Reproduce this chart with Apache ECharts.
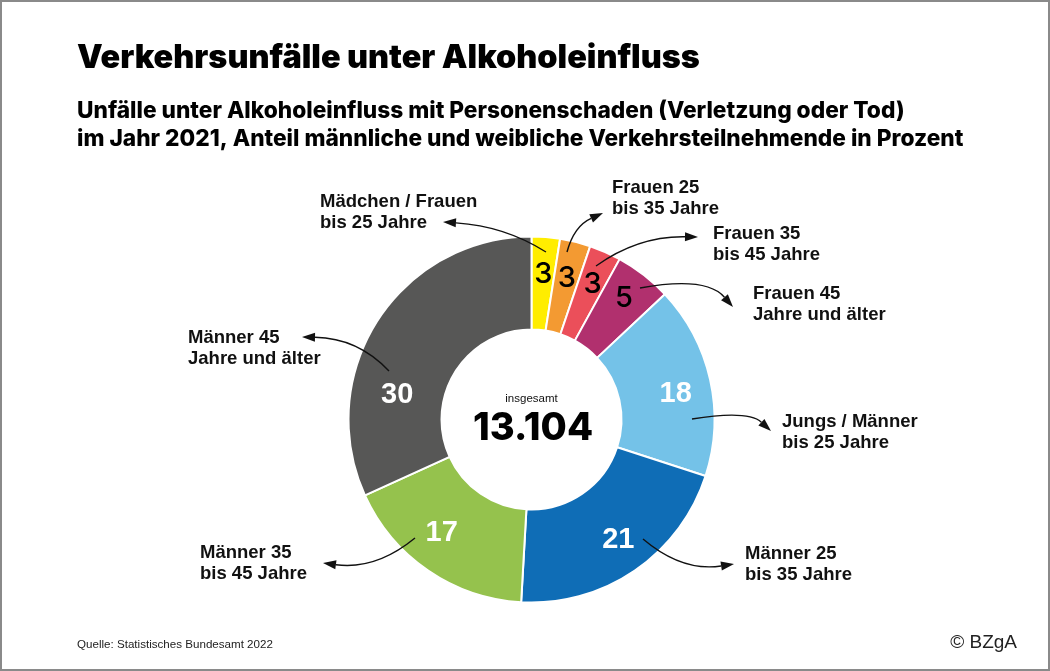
<!DOCTYPE html>
<html lang="de">
<head>
<meta charset="utf-8">
<title>Verkehrsunfälle unter Alkoholeinfluss</title>
<script src="https://cdn.jsdelivr.net/npm/echarts@6/dist/echarts.min.js"></script>
<style>
  html, body { margin: 0; padding: 0; background: #fff; }
  #chart { width: 1050px; height: 671px; }
</style>
</head>
<body>
<div id="chart"></div>
<script>
const categories = [
  ['Mädchen / Frauen', 'bis 25 Jahre'],
  ['Frauen 25', 'bis 35 Jahre'],
  ['Frauen 35', 'bis 45 Jahre'],
  ['Frauen 45', 'Jahre und älter'],
  ['Jungs / Männer', 'bis 25 Jahre'],
  ['Männer 25', 'bis 35 Jahre'],
  ['Männer 35', 'bis 45 Jahre'],
  ['Männer 45', 'Jahre und älter'],
]
// printed percentages
const printedValues = [3, 3, 3, 5, 18, 21, 17, 30]
// slice sizes as read from the drawn angles, the original does not draw them exactly to the printed numbers
const sliceShares = [2.5, 2.7, 2.8, 5, 17, 20.9, 17.3, 31.8]
const total = '13.104'

const colors = ['#FFED00', '#F39A32', '#EB4F5A', '#B1306E', '#74C2E8', '#0F6DB6', '#95C24D', '#575756']
const labelColors = ['#000', '#000', '#000', '#000', '#fff', '#fff', '#fff', '#fff']
const labelOffsets = [[1, -6], [2, -6], [5, -8], [7, -11], [8, 5], [8, 5], [-11, -2], [-17, 51]]

// left edge and vertical centre of the first line of each callout
const calloutPos = [[320, 202], [612, 188], [713, 234], [753, 294], [782, 422], [745, 554], [200, 553], [188, 338]]
// start, control point, tip
const arrows = [
  [[546, 252], [505, 226], [443, 222]],
  [[567, 252], [574, 226], [603, 213]],
  [[596, 266], [638, 236], [698, 237]],
  [[640, 288], [706, 276], [733, 307]],
  [[692, 419], [748, 410], [771, 431]],
  [[643, 539], [682, 572], [734, 564]],
  [[415, 538], [376, 570], [323, 563]],
  [[389, 371], [358, 338], [302, 337]],
]

const FONT = '"Liberation Sans", Arial, sans-serif'
const HEAVY = 'Inter, "Liberation Sans", sans-serif'

// 箭头：曲线加三角形
function arrowGraphic([start, cp, tip]) {
  const a = Math.atan2(tip[1] - cp[1], tip[0] - cp[0])
  const len = 13
  const half = 4.5
  const bx = tip[0] - len * Math.cos(a)
  const by = tip[1] - len * Math.sin(a)
  return [
    {
      type: 'bezierCurve',
      z: 10,
      shape: { x1: start[0], y1: start[1], cpx1: cp[0], cpy1: cp[1], x2: bx, y2: by },
      style: { stroke: '#111', lineWidth: 1.4, fill: 'none' },
    },
    {
      type: 'polygon',
      z: 10,
      shape: {
        points: [
          tip,
          [bx - half * Math.sin(a), by + half * Math.cos(a)],
          [bx + half * Math.sin(a), by - half * Math.cos(a)],
        ],
      },
      style: { fill: '#111' },
    },
  ]
}

function calloutGraphic(lines, i) {
  return {
    type: 'text',
    z: 10,
    x: calloutPos[i][0],
    y: calloutPos[i][1] - 10,
    style: {
      text: lines.join('\n'),
      font: 'bold 18.5px ' + FONT,
      lineHeight: 20.5,
      fill: '#111',
      textVerticalAlign: 'top',
    },
  }
}

const chart = echarts.init(document.getElementById('chart'))

chart.setOption({
  animation: false,
  backgroundColor: '#fff',
  title: [
    {
      text: 'Verkehrsunfälle unter Alkoholeinfluss',
      left: 72,
      top: 37,
      textStyle: { fontFamily: HEAVY, fontWeight: 900, fontSize: 32.4, color: '#000' },
    },
    {
      text: 'Unfälle unter Alkoholeinfluss mit Personenschaden (Verletzung oder Tod)\nim Jahr 2021, Anteil männliche und weibliche Verkehrsteilnehmende in Prozent',
      left: 72,
      top: 92,
      textStyle: { fontFamily: HEAVY, fontWeight: 800, fontSize: 22.7, lineHeight: 28, color: '#000' },
    },
  ],
  series: [
    {
      type: 'pie',
      center: [531.5, 419.5],
      radius: [90, 183],
      startAngle: 90,
      clockwise: true,
      silent: true,
      avoidLabelOverlap: false,
      itemStyle: { borderColor: '#fff', borderWidth: 2 },
      label: { position: 'inside', fontFamily: FONT, fontWeight: 'bold', fontSize: 29 },
      labelLine: { show: false },
      data: sliceShares.map((v, i) => ({
        name: categories[i].join(' '),
        value: v,
        itemStyle: { color: colors[i] },
        label: {
          formatter: String(printedValues[i]),
          color: labelColors[i],
          offset: labelOffsets[i],
          // the black numbers are set lighter than the white ones
          ...(labelColors[i] === '#000' ? { fontFamily: HEAVY, fontWeight: 500 } : {}),
        },
      })),
    },
  ],
  graphic: [
    {
      type: 'rect',
      z: 10,
      shape: { x: 1, y: 1, width: 1048, height: 669 },
      style: { fill: 'none', stroke: '#8a8a8a', lineWidth: 2 },
    },
    ...arrows.flatMap(arrowGraphic),
    ...categories.map(calloutGraphic),
    {
      type: 'text',
      z: 10,
      x: 531.5,
      y: 399,
      style: { text: 'insgesamt', font: '11.5px ' + FONT, fill: '#111', textAlign: 'center', textVerticalAlign: 'middle' },
    },
    {
      type: 'text',
      z: 10,
      x: 533,
      y: 429,
      style: { text: total, font: '800 38px ' + HEAVY, fill: '#000', textAlign: 'center', textVerticalAlign: 'middle' },
    },
    {
      type: 'text',
      z: 10,
      x: 77,
      y: 645,
      style: { text: 'Quelle: Statistisches Bundesamt 2022', font: '11.6px ' + FONT, fill: '#222', textVerticalAlign: 'middle' },
    },
    {
      type: 'text',
      z: 10,
      x: 1017,
      y: 643,
      style: { text: '© BZgA', font: '19px ' + FONT, fill: '#222', textAlign: 'right', textVerticalAlign: 'middle' },
    },
  ],
})
</script>
</body>
</html>
